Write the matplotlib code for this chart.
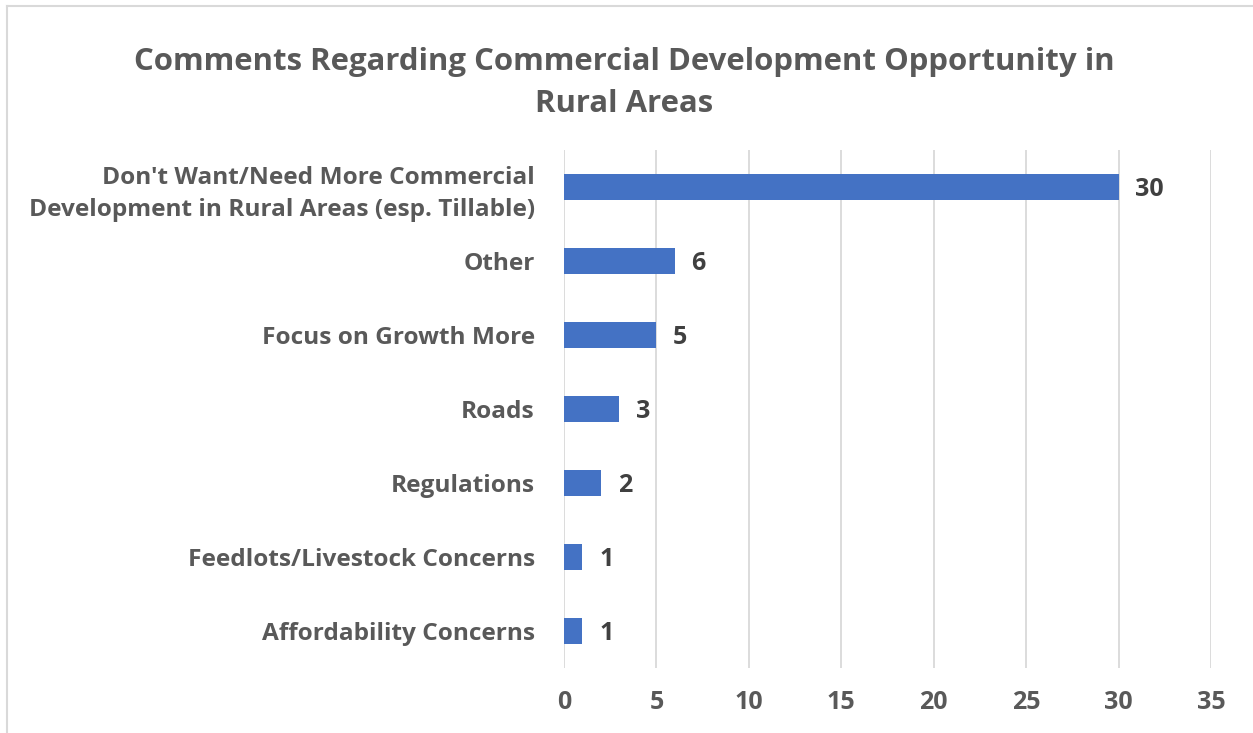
import matplotlib
matplotlib.use("Agg")
import matplotlib.pyplot as plt
from matplotlib.lines import Line2D

plt.rcParams['font.family'] = ['Open Sans', 'DejaVu Sans']

categories = [
    "Don't Want/Need More Commercial\nDevelopment in Rural Areas (esp. Tillable)",
    "Other",
    "Focus on Growth More",
    "Roads",
    "Regulations",
    "Feedlots/Livestock Concerns",
    "Affordability Concerns",
]
counts = [30, 6, 5, 3, 2, 1, 1]
x_ticks = [0, 5, 10, 15, 20, 25, 30, 35]
title = "Comments Regarding Commercial Development Opportunity in\nRural Areas"

W, H = 1253, 733
fig = plt.figure(figsize=(W / 100, H / 100), dpi=100)
fig.patch.set_facecolor("white")

# light frame along the top and left edges
fig.add_artist(Line2D([6.5 / W, 1.0], [1 - 5.5 / H, 1 - 5.5 / H], transform=fig.transFigure,
                      color="#d9d9d9", lw=1.5))
fig.add_artist(Line2D([6.5 / W, 6.5 / W], [0.0, 1 - 5.5 / H], transform=fig.transFigure,
                      color="#d9d9d9", lw=1.5))

left, right, top, bottom = 564, 1211, 150, 668
ax = fig.add_axes([left / W, 1 - bottom / H, (right - left) / W, (bottom - top) / H])

ypos = list(range(len(categories)))
ax.barh(ypos, counts, height=0.35, color="#4472c4", zorder=3)
ax.set_ylim(len(categories) - 0.5, -0.5)
ax.set_xlim(0, 35)
ax.set_xticks(x_ticks)
ax.set_xticklabels([str(t) for t in x_ticks])
ax.set_yticks(ypos)
ax.set_yticklabels(categories, linespacing=1.42)

ax.grid(axis="x", color="#d9d9d9", lw=1.3, zorder=0)
for s in ax.spines.values():
    s.set_visible(False)
ax.tick_params(axis="both", length=0, labelcolor="#595959")
ax.tick_params(axis="x", pad=16, labelsize=18)
ax.tick_params(axis="y", pad=21, labelsize=17.6)
for lab in ax.get_xticklabels() + ax.get_yticklabels():
    lab.set_fontweight("bold")

for y, v in zip(ypos, counts):
    ax.annotate(str(v), (v, y), xytext=(12, -1.5), textcoords="offset points",
                ha="left", va="center", fontsize=18, fontweight="bold",
                color="#404040")

fig.text(624 / W, 1 - 83 / H, title, ha="center", va="center", fontsize=22.4,
         fontweight="bold", color="#595959", linespacing=1.52)

fig.savefig("out.png", dpi=100, facecolor="white")
